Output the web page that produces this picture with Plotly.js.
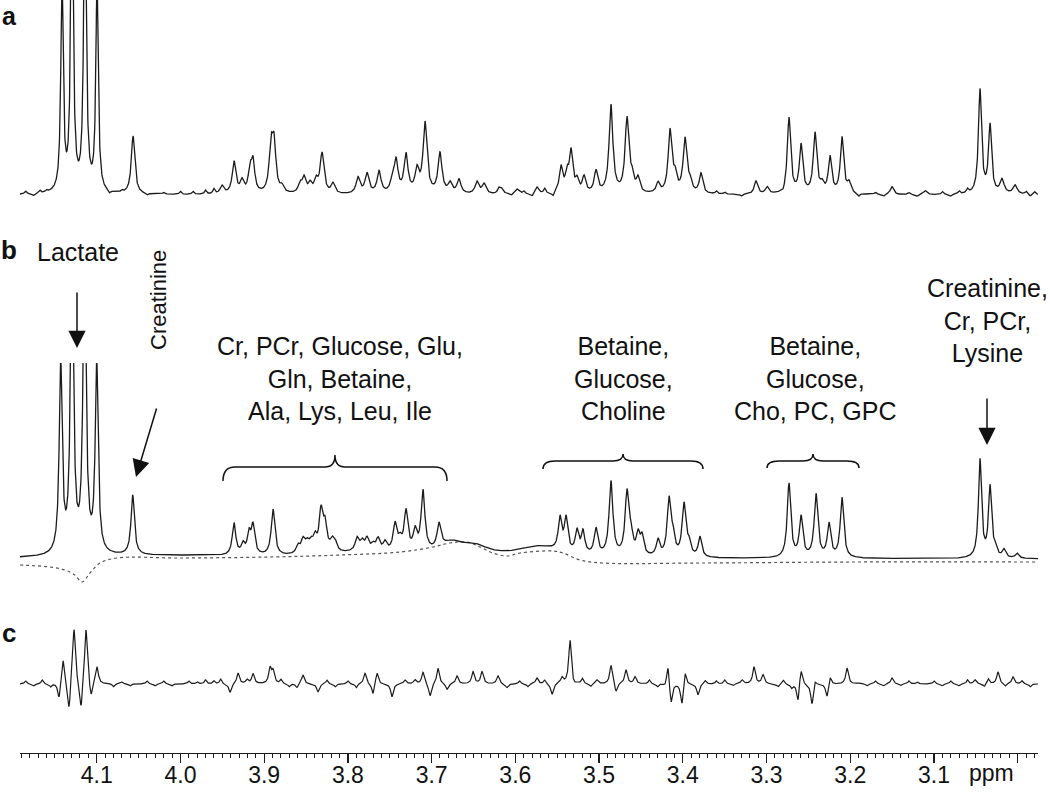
<!DOCTYPE html>
<html>
<head>
<meta charset="utf-8">
<script src="https://cdn.plot.ly/plotly-3.0.1.min.js"></script>
<style>
  body { margin: 0; background: #fff; }
  #chart { width: 1050px; height: 793px; }
</style>
</head>
<body>
<div id="chart"></div>
<script>
// ppm axis limits
var ppmLeft = 4.1916, ppmRight = 2.9758;
var tickPpm = [4.1, 4.0, 3.9, 3.8, 3.7, 3.6, 3.5, 3.4, 3.3, 3.2, 3.1, 3.0];
var tickText = ["4.1", "4.0", "3.9", "3.8", "3.7", "3.6", "3.5", "3.4", "3.3", "3.2", "3.1", ""];

// (a) measured spectrum: peak centre (ppm), height, half width (ppm)
var aPpm = [4.1414, 4.1295, 4.1140, 4.0996, 4.0566,
  3.9503, 3.9360, 3.9265, 3.9169, 3.9133, 3.8918, 3.8882, 3.8787, 3.8572, 3.8524, 3.8452, 3.8381, 3.8309, 3.8178,
  3.7879, 3.7772, 3.7628, 3.7473, 3.7425, 3.7306, 3.7175, 3.7079, 3.6900, 3.6780, 3.6673, 3.6458, 3.6374, 3.6171, 3.5980, 3.5741,
  3.5455, 3.5383, 3.5335, 3.5264, 3.5180, 3.5037, 3.4858, 3.4667, 3.4607, 3.4535, 3.4296, 3.4153, 3.4093, 3.3974, 3.3914, 3.3783,
  3.3126, 3.2994, 3.2732, 3.2588, 3.2421, 3.2338, 3.2242, 3.2099, 3.2015, 3.1502, 3.1107,
  3.0451, 3.0331, 3.0188, 3.0032];
var aHeight = [210, 340, 340, 210, 58,
  8, 32, 12, 22, 30, 44, 46, 6, 9, 15, 9, 12, 40, 10,
  16, 20, 22, 9, 32, 38, 22, 70, 40, 10, 14, 12, 10, 6, 5, 7,
  26, 18, 40, 12, 16, 22, 88, 74, 14, 14, 10, 62, 16, 54, 10, 20,
  13, 7, 76, 48, 60, 8, 36, 56, 10, 8, 4,
  104, 68, 14, 9];
var aWidth = [0.0017, 0.0017, 0.0017, 0.0017, 0.0025,
  0.0026, 0.0026, 0.0026, 0.0024, 0.0024, 0.0026, 0.0026, 0.0026, 0.0026, 0.0026, 0.0026, 0.0026, 0.0028, 0.0026,
  0.0028, 0.0028, 0.0028, 0.0028, 0.0028, 0.0028, 0.0028, 0.0028, 0.0028, 0.0028, 0.0028, 0.0028, 0.0028, 0.0028, 0.0028, 0.0028,
  0.0025, 0.0024, 0.0024, 0.0025, 0.0025, 0.0026, 0.0027, 0.0027, 0.0025, 0.0025, 0.0025, 0.0026, 0.0025, 0.0027, 0.0025, 0.0025,
  0.0025, 0.0025, 0.0024, 0.0024, 0.0025, 0.0025, 0.0024, 0.0024, 0.0025, 0.0025, 0.0025,
  0.0022, 0.0022, 0.003, 0.003];
// small ripples of the noise floor in (a)
var aRipplePpm = [4.185, 4.175, 4.168, 4.160, 4.085, 4.070, 4.040, 4.020, 4.000, 3.985, 3.970, 3.960,
  3.620, 3.605, 3.590, 3.580, 3.565, 3.555, 3.360, 3.350, 3.330, 3.280, 3.190, 3.170, 3.160,
  3.130, 3.120, 3.090, 3.080, 3.070, 3.060, 2.990, 2.985, 2.980];
var aRippleHeight = [3, -2, 3, 2, -3, 2, -2, 2, 3, 3, 4, 5,
  4, -2, 3, -3, 5, -4, 3, 2, -2, -3, -3, 2, -2,
  2, -2, 3, -2, 3, 4, 3, -2, 3];
var rippleWidth = 0.0015;

// (b) fitted spectrum
var bPpm = [4.143, 4.1295, 4.1145, 4.100, 4.057,
  3.936, 3.9253, 3.9181, 3.9133, 3.8894,
  3.8596, 3.8536, 3.8488, 3.8441, 3.8393, 3.8321, 3.8273, 3.8190, 3.8154,
  3.7891, 3.7831, 3.7772, 3.7700, 3.7640, 3.7557, 3.7437, 3.7378, 3.7306, 3.7198, 3.7103, 3.6912,
  3.5467, 3.5395, 3.5264, 3.5192, 3.5037, 3.4858, 3.4667, 3.4619, 3.4535, 3.4487, 3.4296, 3.4165, 3.4117, 3.3986, 3.3926, 3.3795,
  3.2732, 3.2588, 3.2409, 3.2254, 3.2099,
  3.0451, 3.0331, 3.0271, 3.0164, 3.0009];
var bHeight = [190, 320, 320, 190, 60,
  32, 10, 20, 28, 46,
  8, 13, 9, 9, 14, 40, 26, 10, 9,
  13, 9, 12, 6, 12, 9, 27, 10, 40, 20, 60, 24,
  32, 33, 22, 22, 26, 74, 62, 18, 20, 18, 16, 56, 18, 52, 12, 20,
  74, 40, 63, 33, 60,
  98, 70, 8, 8, 5];
var bWidth = [0.0021, 0.0021, 0.0021, 0.0021, 0.0024,
  0.0025, 0.0025, 0.0025, 0.0025, 0.0026,
  0.0027, 0.0027, 0.0027, 0.0027, 0.0027, 0.0027, 0.0027, 0.0027, 0.0027,
  0.0027, 0.0027, 0.0027, 0.0027, 0.0027, 0.0027, 0.0027, 0.0027, 0.0027, 0.0027, 0.0027, 0.0027,
  0.0025, 0.0025, 0.0025, 0.0025, 0.0026, 0.0027, 0.0027, 0.0025, 0.0025, 0.0025, 0.0025, 0.0026, 0.0025, 0.0027, 0.0025, 0.0025,
  0.0025, 0.0025, 0.0026, 0.0025, 0.0025,
  0.0022, 0.0022, 0.0025, 0.0025, 0.0025];
// broad components under the fit
var bBroadPpm = [4.02, 3.78, 3.676, 3.648, 3.572];
var bBroadHeight = [3, 5, 12, 9, 11];
var bBroadWidth = [0.12, 0.06, 0.018, 0.02, 0.03];
var bLevel = 3;
// dotted baseline of the fit
var baselinePpm = [4.1916, 4.1558, 4.138, 4.126, 4.1176, 4.108, 4.096, 4.0758, 4.000, 3.893, 3.8094, 3.7378, 3.6984,
  3.6781, 3.6578, 3.6422, 3.6267, 3.610, 3.5944, 3.555, 3.5431, 3.5228, 3.4953, 3.3795, 3.2003, 2.9758];
var baselineValue = [-3, -5, -8, -13, -20, -11, -1, 4, 4, 5, 7, 10, 15,
  19, 20, 15, 9, 6, 9, 11, 9, 2, -1, -1, 0, 0];

// (c) residual
var cPpm = [4.1450, 4.1402, 4.1331, 4.1271, 4.1187, 4.1128, 4.1068, 4.0996,
  3.9408, 3.9312, 3.9205, 3.9133, 3.8930, 3.8894, 3.8608, 3.8536, 3.8357,
  3.7796, 3.7700, 3.7652, 3.7473, 3.7318, 3.7199, 3.7103, 3.7019, 3.6924, 3.6816, 3.6697, 3.6506, 3.6398, 3.6207, 3.6100,
  3.5742, 3.5562, 3.5443, 3.5347, 3.5300, 3.5025, 3.4858, 3.4798, 3.4679, 3.4571, 3.4213, 3.4177, 3.4141, 3.4010, 3.3974, 3.3819, 3.3735,
  3.3293, 3.3150, 3.3042, 3.2863, 3.2624, 3.2589, 3.2457, 3.2421, 3.2278, 3.2242, 3.2039, 3.1908, 3.1502, 3.0510, 3.0236, 3.0057];
var cHeight = [-16, 26, -29, 57, -29, 57, -16, 17,
  -9, 11, 4, 10, 15, 12, -4, 9, -8,
  11, -11, 12, -13, 4, 4, 12, -13, 16, -6, 8, 12, 12, 8, -4,
  6, -11, 6, 44, -3, 4, 19, -9, 14, 7, -3, 21, -22, -22, 15, -11, 4,
  4, 17, 9, -3, -19, 17, -21, 6, -14, 9, 16, 1, 6, 4, 12, 7];
var cWidth = 0.0019;
// noise floor wiggles in (c)
var cRipplePpm = [4.185, 4.175, 4.165, 4.155, 4.080, 4.070, 4.060, 4.040, 4.030, 4.020, 4.010, 3.990, 3.980,
  3.970, 3.960, 3.952, 3.880, 3.870, 3.825, 3.815, 3.800, 3.790, 3.595, 3.585, 3.565, 3.520, 3.510,
  3.440, 3.430, 3.360, 3.350, 3.340, 3.280, 3.270, 3.180, 3.170, 3.160, 3.140, 3.130, 3.120, 3.100,
  3.090, 3.080, 3.070, 3.060, 3.040, 3.035, 3.015, 2.995, 2.985];
var cRippleHeight = [3, -2, 4, -3, -3, 2, -2, 3, -2, 3, -2, 3, 2,
  4, 3, 5, 4, -3, 4, -3, 3, -4, 3, -3, 4, 5, -3,
  4, -3, 3, 4, -2, 4, -4, -2, 3, -2, -2, 3, 2, 3,
  -2, 3, -2, 4, -3, 5, -3, 3, -3];

// sum of lorentzian lines on a ppm grid
var grid = [];
for (var p = ppmLeft; p >= ppmRight; p -= 0.00025) grid.push(p);

function spectrum(centres, heights, widths, level) {
  return grid.map(function(x) {
    var s = level || 0;
    for (var i = 0; i < centres.length; i++) {
      var w = Array.isArray(widths) ? widths[i] : widths;
      var d = x - centres[i];
      s += heights[i] * w * w / (d * d + w * w);
    }
    return s;
  });
}
function addUp() {
  var parts = arguments;
  return parts[0].map(function(v, i) {
    for (var k = 1; k < parts.length; k++) v += parts[k][i];
    return v;
  });
}

var aY = addUp(spectrum(aPpm, aHeight, aWidth), spectrum(aRipplePpm, aRippleHeight, rippleWidth));
var bY = addUp(spectrum(bPpm, bHeight, bWidth, bLevel), spectrum(bBroadPpm, bBroadHeight, bBroadWidth));
var cY = addUp(spectrum(cPpm, cHeight, cWidth), spectrum(cRipplePpm, cRippleHeight, rippleWidth));

var ink = "#1b1b1b";
var font = "Liberation Sans, Arial, Helvetica, sans-serif";

var data = [
  {x: grid, y: aY, xaxis: "x", yaxis: "y", mode: "lines", line: {color: ink, width: 1.3}},
  {x: baselinePpm, y: baselineValue, xaxis: "x", yaxis: "y2", mode: "lines",
   line: {color: "#555", width: 1.2, dash: "dot", shape: "spline"}},
  {x: grid, y: bY, xaxis: "x", yaxis: "y2", mode: "lines", line: {color: ink, width: 1.3}},
  {x: grid, y: cY, xaxis: "x", yaxis: "y3", mode: "lines", line: {color: ink, width: 1.2}}
];

// pixel helpers for the annotation layer
function px(v) { return (v - 20) / 1018; }
function py(v) { return (753 - v) / 753; }

function label(text, x, y, size, extra) {
  var a = {text: text, x: px(x), y: py(y), xref: "paper", yref: "paper", showarrow: false,
    xanchor: "center", yanchor: "middle", font: {family: font, size: size, color: "#111"}};
  for (var k in extra) a[k] = extra[k];
  return a;
}
function arrow(tipX, tipY, dx, dy) {
  return {text: "", x: px(tipX), y: py(tipY), xref: "paper", yref: "paper", showarrow: true,
    ax: dx, ay: dy, arrowhead: 2, arrowsize: 2.3, arrowwidth: 1.5, arrowcolor: "#111", standoff: 0};
}
function brace(x0, x1, yLine, yEnd, yPeak) {
  var xc = (x0 + x1) / 2, r = 12, r2 = 10;
  function P(x, y) { return px(x) + "," + py(y); }
  var d = "M" + P(x0, yEnd) + " Q" + P(x0, yLine) + " " + P(x0 + r, yLine) +
    " L" + P(xc - r2, yLine) + " Q" + P(xc, yLine) + " " + P(xc, yPeak) +
    " Q" + P(xc, yLine) + " " + P(xc + r2, yLine) +
    " L" + P(x1 - r, yLine) + " Q" + P(x1, yLine) + " " + P(x1, yEnd);
  return {type: "path", xref: "paper", yref: "paper", path: d, line: {color: "#111", width: 1.5}};
}

var layout = {
  width: 1050, height: 793,
  margin: {l: 20, r: 12, t: 0, b: 40},
  paper_bgcolor: "#fff", plot_bgcolor: "#fff",
  showlegend: false,
  xaxis: {
    range: [ppmLeft, ppmRight], anchor: "free", position: 0,
    showline: true, linecolor: ink, linewidth: 1.3,
    ticks: "outside", ticklen: 9, tickwidth: 1.3, tickcolor: ink,
    tickmode: "array", tickvals: tickPpm, ticktext: tickText,
    ticklabelstandoff: -8,
    tickfont: {family: font, size: 23, color: "#111"},
    minor: {ticks: "outside", tick0: 3.0, dtick: 0.01, ticklen: 4, tickwidth: 1, tickcolor: ink, showgrid: false},
    showgrid: false, zeroline: false
  },
  yaxis: {domain: [0.7145, 1], range: [-20, 195], visible: false, anchor: "x"},
  yaxis2: {domain: [0.2138, 0.5179], range: [-30, 199], visible: false, anchor: "x"},
  yaxis3: {domain: [0.0332, 0.1873], range: [-44, 72], visible: false, anchor: "x"},
  annotations: [
    label("<b>a</b>", 9, 16, 25),
    label("<b>b</b>", 9, 250, 26),
    label("<b>c</b>", 9, 633, 26),
    label("ppm", 991, 773, 23),
    label("Lactate", 78, 252, 25),
    label("Creatinine", 158, 300, 22, {textangle: -90}),
    label("Cr, PCr, Glucose, Glu,<br>Gln, Betaine,<br>Ala, Lys, Leu, Ile", 340, 378, 25),
    label("Betaine,<br>Glucose,<br>Choline", 623, 378, 25),
    label("Betaine,<br>Glucose,<br>Cho, PC, GPC", 815, 378, 25),
    label("Creatinine,<br>Cr, PCr,<br>Lysine", 987, 321, 25),
    arrow(77, 348, 0, -57),
    arrow(136, 477, 21, -70),
    arrow(987, 445, 0, -48)
  ],
  shapes: [
    brace(223, 447, 467, 481, 455),
    brace(543, 703, 461, 469, 454),
    brace(767, 859, 461, 468, 454)
  ]
};

Plotly.newPlot("chart", data, layout, {staticPlot: true});
</script>
</body>
</html>
